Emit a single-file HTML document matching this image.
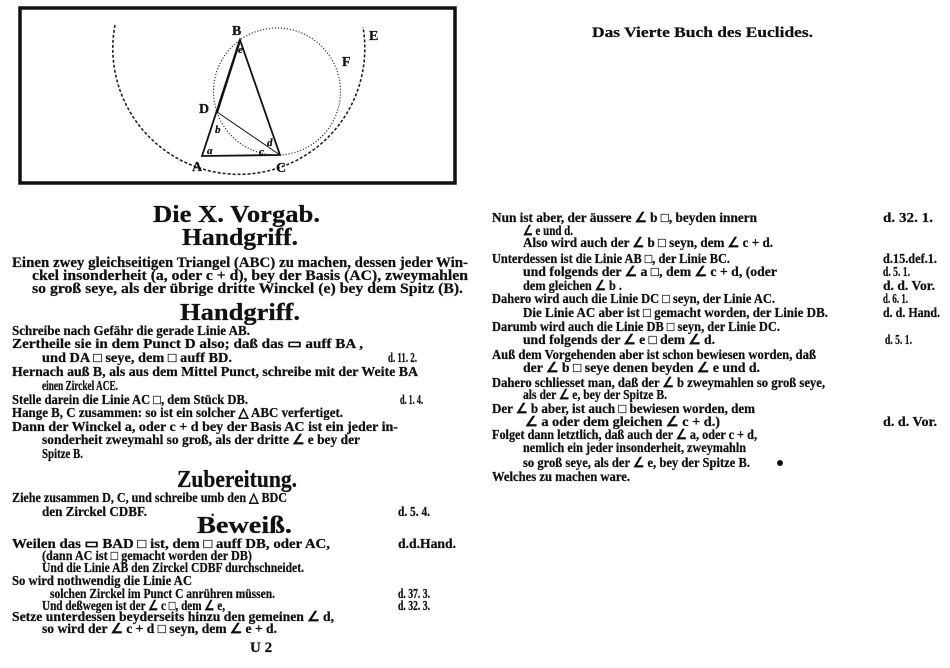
<!DOCTYPE html>
<html><head><meta charset="utf-8"><style>
html,body{margin:0;padding:0;background:#fff;width:950px;height:668px;overflow:hidden}
svg{display:block}
text{font-family:"Liberation Serif",serif;font-weight:bold;fill:#111;stroke:#111;stroke-width:0.25}
.b{font-size:13.5px}
.h{font-size:24px}
</style></head><body>
<svg width="950" height="668" viewBox="0 0 950 668" xmlns="http://www.w3.org/2000/svg">
<rect x="20" y="8" width="435" height="175" fill="none" stroke="#111" stroke-width="3.5"/>
<path d="M115,25 A126,126 0 1 0 363,27" fill="none" stroke="#222" stroke-width="1.6" stroke-dasharray="3,2"/>
<circle cx="277" cy="91.5" r="63.5" fill="none" stroke="#333" stroke-width="1.2" stroke-dasharray="1.2,1.8"/>
<path d="M202,156 L240,40 L280,155 Z" fill="none" stroke="#111" stroke-width="1.8"/>
<line x1="217" y1="112" x2="240" y2="40" stroke="#111" stroke-width="2.4"/>
<line x1="217" y1="112" x2="280" y2="155" stroke="#111" stroke-width="1"/>
<g style="font-size:14px">
<text x="232" y="35">B</text><text x="369" y="40">E</text><text x="342" y="66">F</text>
<text x="199" y="113">D</text><text x="192" y="171">A</text><text x="276" y="172">C</text>
</g>
<g style="font-size:11px;font-style:italic;font-weight:normal">
<text x="238" y="53">e</text><text x="215" y="133">b</text><text x="207" y="154">a</text>
<text x="259" y="155">c</text><text x="267" y="146">d</text>
</g>
<text x="592" y="37" textLength="221" lengthAdjust="spacingAndGlyphs" style="font-size:15px">Das Vierte Buch des Euclides.</text>
<text class="h" x="153" y="222" textLength="167" lengthAdjust="spacingAndGlyphs">Die X. Vorgab.</text>
<text class="h" x="182" y="245" textLength="116" lengthAdjust="spacingAndGlyphs">Handgriff.</text>
<text x="12" y="267" textLength="456" lengthAdjust="spacingAndGlyphs" style="font-size:15px">Einen zwey gleichseitigen Triangel (ABC) zu machen, dessen jeder Win-</text>
<text x="32" y="280" textLength="436" lengthAdjust="spacingAndGlyphs" style="font-size:15px">ckel insonderheit (a, oder c + d), bey der Basis (AC), zweymahlen</text>
<text x="32" y="293" textLength="431" lengthAdjust="spacingAndGlyphs" style="font-size:15px">so groß seye, als der übrige dritte Winckel (e) bey dem Spitz (B).</text>
<text class="h" x="180" y="320" textLength="120" lengthAdjust="spacingAndGlyphs">Handgriff.</text>
<g class="b">
<text x="12" y="335" textLength="238" lengthAdjust="spacingAndGlyphs">Schreibe nach Gefähr die gerade Linie AB.</text>
<text x="12" y="348" textLength="351" lengthAdjust="spacingAndGlyphs">Zertheile sie in dem Punct D also;  daß das ▭ auff BA ,</text>
<text x="42" y="362" textLength="190" lengthAdjust="spacingAndGlyphs">und DA □ seye, dem □ auff BD.</text>
<text x="388" y="362" textLength="29" lengthAdjust="spacingAndGlyphs">d. 11. 2.</text>
<text x="12" y="376" textLength="406" lengthAdjust="spacingAndGlyphs">Hernach auß B, als aus dem Mittel Punct, schreibe mit der Weite BA</text>
<text x="42" y="390" textLength="76" lengthAdjust="spacingAndGlyphs">einen Zirckel ACE.</text>
<text x="12" y="404" textLength="236" lengthAdjust="spacingAndGlyphs">Stelle darein die Linie AC □, dem Stück DB.</text>
<text x="400" y="404" textLength="23" lengthAdjust="spacingAndGlyphs">d. 1. 4.</text>
<text x="12" y="417" textLength="331" lengthAdjust="spacingAndGlyphs">Hange B, C zusammen:  so ist ein solcher △ ABC verfertiget.</text>
<text x="12" y="431" textLength="386" lengthAdjust="spacingAndGlyphs">Dann der Winckel a, oder c + d bey der Basis AC ist ein jeder in-</text>
<text x="42" y="444" textLength="318" lengthAdjust="spacingAndGlyphs">sonderheit zweymahl so groß, als der dritte ∠ e bey der</text>
<text x="42" y="458" textLength="41" lengthAdjust="spacingAndGlyphs">Spitze B.</text>
</g>
<text class="h" x="177" y="487" textLength="120" lengthAdjust="spacingAndGlyphs">Zubereitung.</text>
<g class="b">
<text x="12" y="502" textLength="275" lengthAdjust="spacingAndGlyphs">Ziehe zusammen D, C, und schreibe umb den △ BDC</text>
<text x="42" y="516" textLength="105" lengthAdjust="spacingAndGlyphs">den Zirckel CDBF.</text>
<text x="211" y="516">.</text>
<text x="398" y="516" textLength="32" lengthAdjust="spacingAndGlyphs">d. 5. 4.</text>
</g>
<text class="h" x="197" y="533" textLength="95" lengthAdjust="spacingAndGlyphs">Beweiß.</text>
<g class="b">
<text x="12" y="548" textLength="318" lengthAdjust="spacingAndGlyphs">Weilen das ▭ BAD □ ist, dem □ auff DB, oder AC,</text>
<text x="398" y="548" textLength="58" lengthAdjust="spacingAndGlyphs">d.d.Hand.</text>
<text x="42" y="560" textLength="210" lengthAdjust="spacingAndGlyphs">(dann AC ist □ gemacht worden der DB)</text>
<text x="42" y="572" textLength="262" lengthAdjust="spacingAndGlyphs">Und die Linie AB den Zirckel CDBF durchschneidet.</text>
<text x="12" y="585" textLength="180" lengthAdjust="spacingAndGlyphs">So wird nothwendig die Linie AC</text>
<text x="50" y="598" textLength="225" lengthAdjust="spacingAndGlyphs">solchen Zirckel im Punct C anrühren müssen.</text>
<text x="398" y="598" textLength="32" lengthAdjust="spacingAndGlyphs">d. 37. 3.</text>
<text x="42" y="610" textLength="183" lengthAdjust="spacingAndGlyphs">Und deßwegen ist der ∠ c □, dem ∠ e,</text>
<text x="398" y="610" textLength="32" lengthAdjust="spacingAndGlyphs">d. 32. 3.</text>
<text x="12" y="621" textLength="322" lengthAdjust="spacingAndGlyphs">Setze unterdessen beyderseits hinzu den gemeinen ∠ d,</text>
<text x="42" y="633" textLength="235" lengthAdjust="spacingAndGlyphs">so wird der ∠ c + d □ seyn, dem ∠ e + d.</text>
<text x="250" y="652" style="font-size:15px">U 2</text>
</g>
<g class="b">
<text x="492" y="222" textLength="265" lengthAdjust="spacingAndGlyphs">Nun ist aber, der äussere ∠ b □, beyden innern</text>
<text x="883" y="222" textLength="50" lengthAdjust="spacingAndGlyphs">d. 32. 1.</text>
<text x="523" y="235" textLength="50" lengthAdjust="spacingAndGlyphs">∠ e und d.</text>
<text x="523" y="247" textLength="250" lengthAdjust="spacingAndGlyphs">Also wird auch der ∠ b □ seyn, dem ∠ c + d.</text>
<text x="492" y="263" textLength="238" lengthAdjust="spacingAndGlyphs">Unterdessen ist die Linie AB □, der Linie BC.</text>
<text x="883" y="263" textLength="54" lengthAdjust="spacingAndGlyphs">d.15.def.1.</text>
<text x="523" y="276" textLength="254" lengthAdjust="spacingAndGlyphs">und folgends der ∠ a □, dem ∠ c + d, (oder</text>
<text x="883" y="276" textLength="27" lengthAdjust="spacingAndGlyphs">d. 5. 1.</text>
<text x="523" y="290" textLength="99" lengthAdjust="spacingAndGlyphs">dem gleichen ∠ b .</text>
<text x="883" y="290" textLength="52" lengthAdjust="spacingAndGlyphs">d. d. Vor.</text>
<text x="492" y="303" textLength="283" lengthAdjust="spacingAndGlyphs">Dahero wird auch die Linie DC □ seyn, der Linie AC.</text>
<text x="883" y="303" textLength="25" lengthAdjust="spacingAndGlyphs">d. 6. 1.</text>
<text x="523" y="317" textLength="305" lengthAdjust="spacingAndGlyphs">Die Linie AC aber ist □ gemacht worden, der Linie DB.</text>
<text x="883" y="317" textLength="57" lengthAdjust="spacingAndGlyphs">d. d. Hand.</text>
<text x="492" y="331" textLength="288" lengthAdjust="spacingAndGlyphs">Darumb wird auch die Linie DB □ seyn, der Linie DC.</text>
<text x="523" y="344" textLength="192" lengthAdjust="spacingAndGlyphs">und folgends der ∠ e □ dem ∠ d.</text>
<text x="885" y="344" textLength="27" lengthAdjust="spacingAndGlyphs">d. 5. 1.</text>
<text x="492" y="359" textLength="324" lengthAdjust="spacingAndGlyphs">Auß dem Vorgehenden aber ist schon bewiesen worden, daß</text>
<text x="523" y="372" textLength="237" lengthAdjust="spacingAndGlyphs">der ∠ b □ seye denen beyden ∠ e und d.</text>
<text x="492" y="387" textLength="333" lengthAdjust="spacingAndGlyphs">Dahero schliesset man, daß der ∠ b zweymahlen so groß seye,</text>
<text x="523" y="399" textLength="144" lengthAdjust="spacingAndGlyphs">als der ∠ e, bey der Spitze B.</text>
<text x="492" y="413" textLength="263" lengthAdjust="spacingAndGlyphs">Der ∠ b aber, ist auch □ bewiesen worden, dem</text>
<text x="525" y="426" textLength="195" lengthAdjust="spacingAndGlyphs">∠ a oder dem gleichen ∠ c + d.)</text>
<text x="883" y="426" textLength="54" lengthAdjust="spacingAndGlyphs">d. d. Vor.</text>
<text x="492" y="439" textLength="265" lengthAdjust="spacingAndGlyphs">Folget dann letztlich, daß auch der ∠ a, oder c + d,</text>
<text x="523" y="452" textLength="223" lengthAdjust="spacingAndGlyphs">nemlich ein jeder insonderheit, zweymahln</text>
<text x="523" y="467" textLength="227" lengthAdjust="spacingAndGlyphs">so groß seye, als der ∠ e, bey der Spitze B.</text>
<circle cx="780" cy="463" r="3" fill="#111"/>
<text x="492" y="481" textLength="138" lengthAdjust="spacingAndGlyphs">Welches zu machen ware.</text>
</g>
</svg>
</body></html>
